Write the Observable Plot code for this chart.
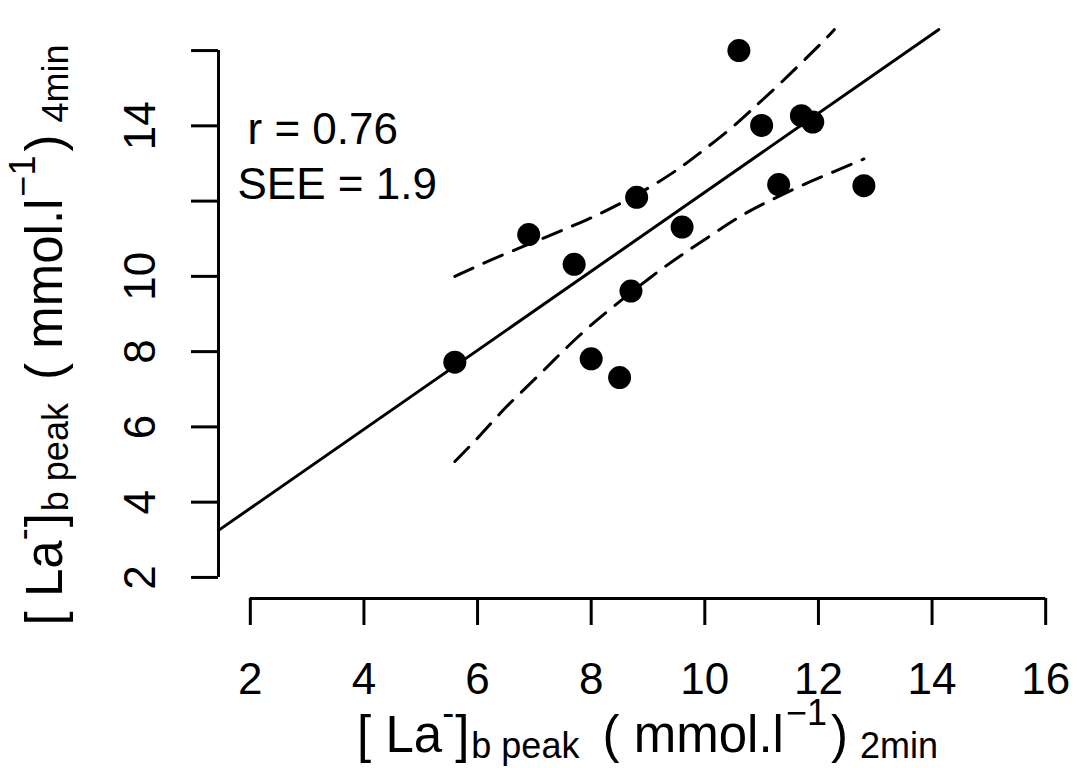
<!DOCTYPE html>
<html>
<head>
<meta charset="utf-8">
<script src="https://cdn.jsdelivr.net/npm/d3@7"></script>
<script src="https://cdn.jsdelivr.net/npm/@observablehq/plot@0.6"></script>
<style>
  html, body { margin: 0; padding: 0; background: #fff; }
  svg { display: block; }
</style>
</head>
<body>
<div id="chart"></div>
<script>
// ---- data ----
const lactate2min = [5.6, 6.9, 7.7, 8.0, 8.5, 8.7, 8.8, 9.6, 10.6, 11.0, 11.3, 11.7, 11.9, 12.8];
const lactate4min = [7.72, 11.11, 10.32, 7.81, 7.31, 9.61, 12.1, 11.31, 16.0, 14.01, 12.44, 14.27, 14.1, 12.41];

// regression line (ends where it meets the plot frame)
const fitX = [1.44, 14.12];
const fitY = [3.25, 16.56];

// dashed confidence band
const upperX = [5.6, 6.17, 6.75, 7.34, 7.93, 8.52, 9.10, 9.57, 9.95, 10.51, 10.86, 11.27, 11.68, 12.15, 12.28];
const upperY = [10.0, 10.40, 10.76, 11.13, 11.50, 11.93, 12.42, 12.88, 13.32, 13.98, 14.48, 15.04, 15.64, 16.34, 16.56];
const lowerX = [5.6, 6.05, 6.46, 6.93, 7.34, 7.75, 8.22, 9.10, 9.57, 10.1, 10.63, 11.1, 11.68, 12.21, 12.8];
const lowerY = [5.08, 5.77, 6.48, 7.15, 7.77, 8.38, 9.0, 10.05, 10.55, 11.08, 11.62, 11.98, 12.41, 12.74, 13.12];

// axes
const xDomain = [1.44, 16.56];
const yDomain = [1.44, 16.56];
const xTicks = [2, 4, 6, 8, 10, 12, 14, 16];
const yTicks = [2, 4, 6, 8, 10, 12, 14, 16];
const yTickLabels = [2, 4, 6, 8, 10, 14];
const statLabels = ["r = 0.76", "SEE = 1.9"];

const points = lactate2min.map((x, i) => ({x, y: lactate4min[i]}));
const fit = fitX.map((x, i) => ({x, y: fitY[i]}));
const upper = upperX.map((x, i) => ({x, y: upperY[i]}));
const lower = lowerX.map((x, i) => ({x, y: lowerY[i]}));

const FONT = "'Liberation Sans', Arial, Helvetica, sans-serif";

const chart = Plot.plot({
  width: 1077,
  height: 768,
  marginLeft: 218,
  marginRight: 0,
  marginTop: 29,
  marginBottom: 170,
  style: {fontFamily: FONT, background: "#fff", color: "#000"},
  x: {domain: xDomain},
  y: {domain: yDomain},
  marks: [
    // axis lines (R style, from first to last tick)
    Plot.ruleY([yDomain[0]], {x1: xTicks[0], x2: xTicks[xTicks.length - 1], stroke: "#000", strokeWidth: 3}),
    Plot.ruleX([xDomain[0]], {y1: yTicks[0], y2: yTicks[yTicks.length - 1], stroke: "#000", strokeWidth: 3}),
    Plot.axisX({ticks: xTicks, tickSize: 27, tickFormat: () => "", strokeWidth: 3, label: null}),
    Plot.axisY({ticks: yTicks, tickSize: 27, tickFormat: () => "", strokeWidth: 3, label: null}),
    // tick labels
    Plot.text(xTicks, {x: d => d, frameAnchor: "bottom", dy: 64, lineAnchor: "top", textAnchor: "middle", fontSize: 44, fill: "#000"}),
    Plot.text(yTickLabels, {y: d => d, frameAnchor: "left", dx: -95, rotate: -90, lineAnchor: "top", textAnchor: "middle", fontSize: 44, fill: "#000"}),
    // fit and confidence band
    Plot.line(upper, {x: "x", y: "y", curve: "basis", stroke: "#000", strokeWidth: 3, strokeDasharray: "20,12"}),
    Plot.line(lower, {x: "x", y: "y", curve: "basis", stroke: "#000", strokeWidth: 3, strokeDasharray: "20,12"}),
    Plot.line(fit, {x: "x", y: "y", stroke: "#000", strokeWidth: 3}),
    // points
    Plot.dot(points, {x: "x", y: "y", r: 11.5, fill: "#000", stroke: null}),
    // stats
    Plot.text([statLabels[0]], {frameAnchor: "top-left", dx: 29, dy: 83, textAnchor: "start", lineAnchor: "top", fontSize: 44, fill: "#000"}),
    Plot.text([statLabels[1]], {frameAnchor: "top-left", dx: 19, dy: 138, textAnchor: "start", lineAnchor: "top", fontSize: 44, fill: "#000"})
  ]
});

document.getElementById("chart").append(chart);

// axis titles with sub/superscripts
const svg = d3.select(chart);
function axisTitle(g, scriptLabel) {
  const t = g.append("text")
    .attr("text-anchor", "middle")
    .attr("font-family", FONT)
    .attr("fill", "#000")
    .attr("font-size", 51);
  const parts = [
    {s: "[ La", size: 51, dy: 0, dx: 0},
    {s: "-", size: 36, dy: -27, dx: 0},
    {s: "]", size: 51, dy: 27, dx: 1},
    {s: "b peak", size: 36, dy: 6, dx: 2},
    {s: " ( mmol.l", size: 51, dy: -6, dx: 9},
    {s: "\u22121", size: 36, dy: -27, dx: 2},
    {s: ")", size: 51, dy: 27, dx: 4},
    {s: " " + scriptLabel, size: 36, dy: 6, dx: 2}
  ];
  parts.forEach(p => {
    t.append("tspan").attr("font-size", p.size).attr("dy", p.dy).attr("dx", p.dx).text(p.s);
  });
  return t;
}
const xTitle = svg.append("g").attr("transform", "translate(647.5,752)");
axisTitle(xTitle, "2min");
const yTitle = svg.append("g").attr("transform", "translate(62,335) rotate(-90)");
axisTitle(yTitle, "4min");
</script>
</body>
</html>
